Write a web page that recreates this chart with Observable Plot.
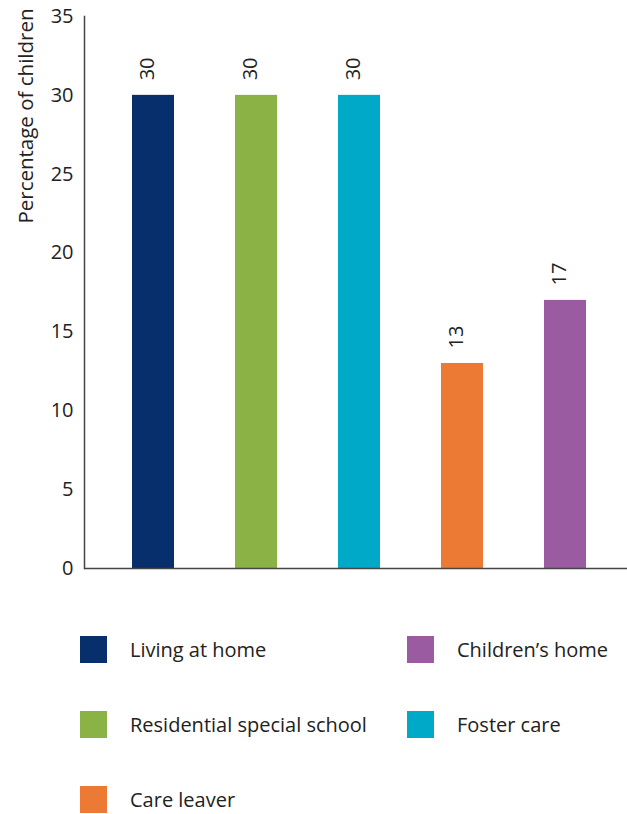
<!DOCTYPE html>
<html>
<head>
<meta charset="utf-8">
<script src="https://cdn.jsdelivr.net/npm/d3@7"></script>
<script src="https://cdn.jsdelivr.net/npm/@observablehq/plot@0.6"></script>
<style>
  body { margin: 0; background: #fff; font-family: "Open Sans", sans-serif; }
  #chart svg { display: block; }
  .legend { display: grid; grid-template-columns: 327px auto; padding-left: 80px; margin-top: 46px; row-gap: 48px; }
  .item { display: flex; align-items: center; height: 27px; font-size: 20px; color: #222; }
  .sw { width: 27px; height: 27px; margin-right: 23px; flex: none; }
</style>
</head>
<body>
<div id="chart"></div>
<div class="legend" id="legend"></div>
<script>
const categories = ["Living at home", "Residential special school", "Foster care", "Care leaver", "Children’s home"];
const values = [30, 30, 30, 13, 17];
const colors = ["#062f6b", "#8ab245", "#00a9c8", "#ec7a35", "#9b5ba0"];
const yTicks = [0, 5, 10, 15, 20, 25, 30, 35];
const legendOrder = ["Living at home", "Children’s home", "Residential special school", "Foster care", "Care leaver"];

const data = categories.map((c, i) => ({category: c, value: values[i]}));

const plot = Plot.plot({
  width: 627,
  height: 590,
  marginLeft: 84,
  marginRight: 0,
  marginTop: 16,
  marginBottom: 22,
  style: {fontFamily: "Open Sans, sans-serif", fontSize: "20px", color: "#222"},
  x: {domain: categories, paddingInner: 0.594, paddingOuter: 0.42, align: 0.54, axis: null},
  y: {domain: [0, 35], axis: null},
  color: {domain: categories, range: colors},
  marks: [
    Plot.barY(data, {x: "category", y: "value", fill: "category"}),
    Plot.axisY({ticks: yTicks, tickSize: 0, tickPadding: 11, fontSize: 20, label: null}),
    Plot.frame({anchor: "left", stroke: "#444", strokeWidth: 1.5}),
    Plot.ruleY([0], {stroke: "#444", strokeWidth: 1.5}),
    Plot.text(data, {x: "category", y: "value", text: d => String(d.value), rotate: -90, textAnchor: "start", dy: -15, dx: -6, fontSize: 20, fill: "#222"}),
    Plot.text(["Percentage of children"], {frameAnchor: "top-left", rotate: -90, textAnchor: "end", dx: -66, dy: -8, fontSize: 20.5, fill: "#222"})
  ]
});
document.getElementById("chart").appendChild(plot);

const legend = document.getElementById("legend");
legendOrder.forEach(name => {
  const i = categories.indexOf(name);
  const div = document.createElement("div");
  div.className = "item";
  div.innerHTML = `<span class="sw" style="background:${colors[i]}"></span><span>${name}</span>`;
  legend.appendChild(div);
});
</script>
</body>
</html>
